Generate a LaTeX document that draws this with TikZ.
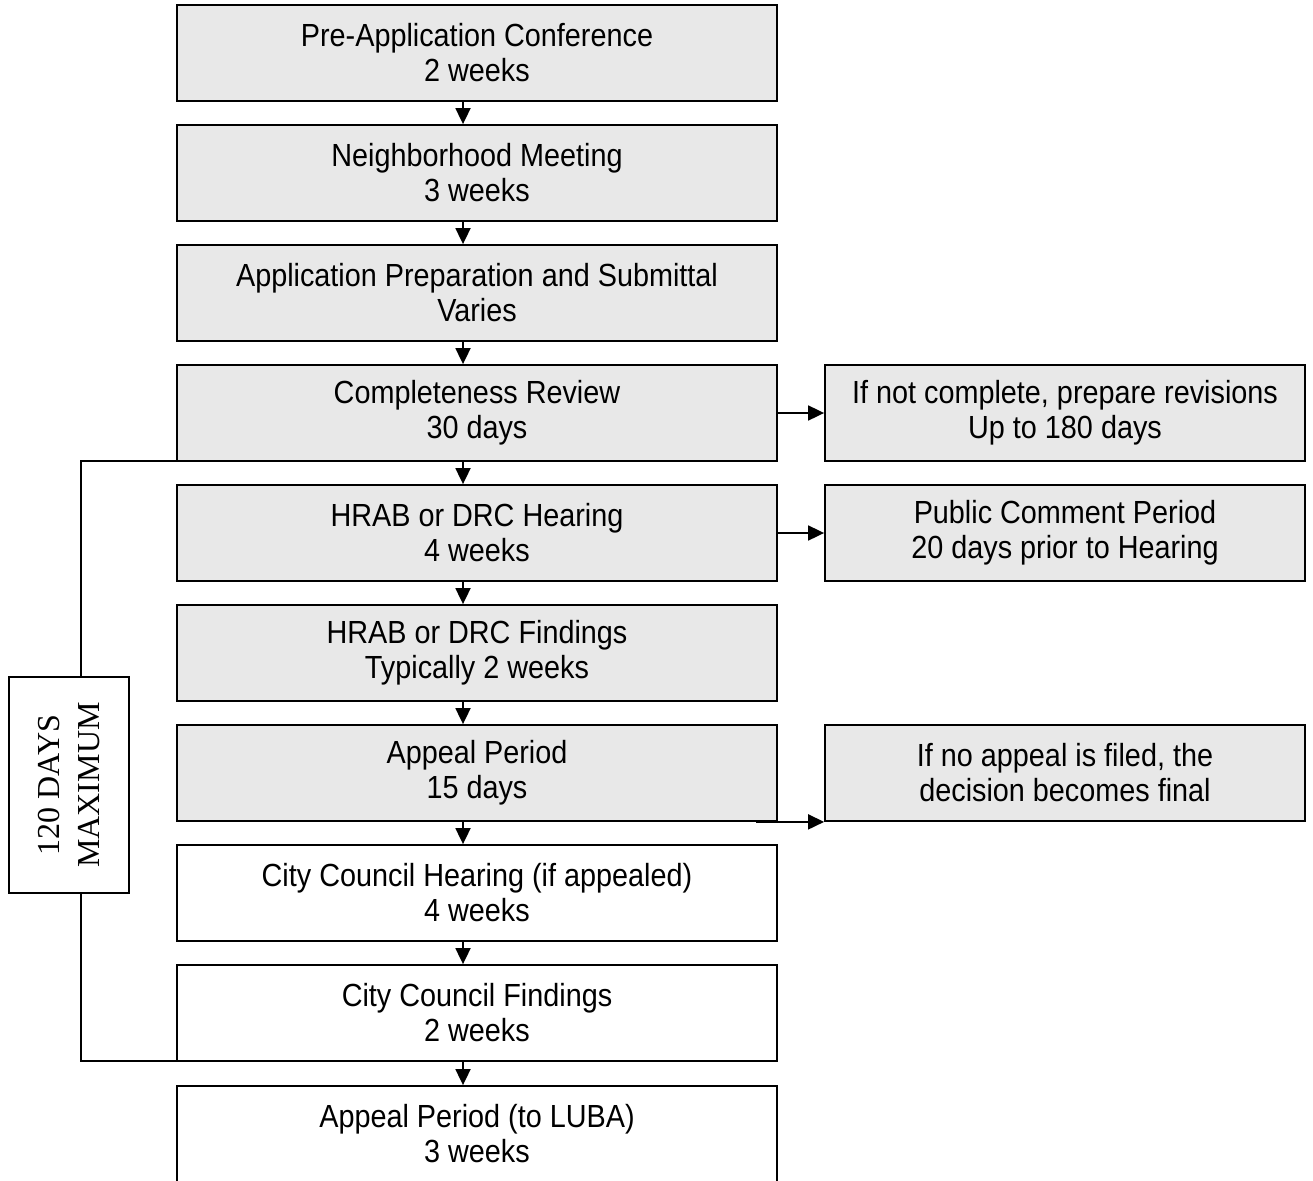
\documentclass[tikz,border=0pt]{standalone}
\usepackage{fontspec}
\setmainfont[FakeStretch=0.9]{Liberation Sans}
\newfontfamily\labelserif{Liberation Serif}
\usetikzlibrary{arrows.meta}
\definecolor{boxgray}{RGB}{232,232,232}
\tikzset{
  stepbox/.style={draw=black, line width=1.8pt, fill=#1, minimum width=600pt, minimum height=96pt,
    inner sep=0pt, align=center, font=\fontsize{32}{35}\selectfont},
  stepbox/.default=boxgray,
  sidebox/.style={draw=black, line width=1.8pt, fill=boxgray, minimum width=480pt, minimum height=96pt,
    inner sep=0pt, align=center, font=\fontsize{32}{35}\selectfont},
  arr/.style={line width=1.8pt, -{Triangle[length=16pt,width=15pt]}},
  plain/.style={line width=1.8pt},
}
\begin{document}
\begin{tikzpicture}[x=1pt,y=-1pt]
\useasboundingbox (0,0) rectangle (1313,1180);
\clip (0,0) rectangle (1313,1180);
\node[stepbox] (b1) at (477,53) {Pre-Application Conference\\2 weeks};
\node[stepbox] (b2) at (477,173) {Neighborhood Meeting\\3 weeks};
\node[stepbox] (b3) at (477,293) {Application Preparation and Submittal\\Varies};
\node[stepbox] (b4) at (477,413) {Completeness Review\\30 days};
\node[stepbox] (b5) at (477,533) {HRAB or DRC Hearing\\4 weeks};
\node[stepbox] (b6) at (477,653) {HRAB or DRC Findings\\Typically 2 weeks};
\node[stepbox] (b7) at (477,773) {Appeal Period\\15 days};
\node[stepbox=white] (b8) at (477,893) {City Council Hearing (if appealed)\\4 weeks};
\node[stepbox=white] (b9) at (477,1013) {City Council Findings\\2 weeks};
\node[stepbox=white] (b10) at (477,1134) {Appeal Period (to LUBA)\\3 weeks};

\node[sidebox] (r1) at (1065,413) {If not complete, prepare revisions\\Up to 180 days};
\node[sidebox] (r2) at (1065,533) {Public Comment Period\\20 days prior to Hearing};
\node[sidebox] (r3) at (1065,773) {If no appeal is filed, the\\decision becomes final};

\foreach \a/\b in {b1/b2,b2/b3,b3/b4,b4/b5,b5/b6,b6/b7,b7/b8,b8/b9,b9/b10}
  \draw[arr] ([xshift=-14pt]\a.south) -- ([xshift=-14pt]\b.north);

\draw[arr] (b4.east) -- (r1.west);
\draw[arr] (b5.east) -- (r2.west);
\draw[arr] ([xshift=-22pt]b7.south east) -- (r3.south west);

\node[draw=black, line width=1.8pt, fill=white, minimum width=120pt, minimum height=216pt, inner sep=0pt] (lab) at (69,785) {};
\node[rotate=90, align=center, font=\labelserif\fontsize{32}{40}\selectfont] (labtext) at (lab.center) {120 DAYS\\MAXIMUM};
\coordinate (bt) at (81,461);
\coordinate (bb) at (81,1061);
\draw[plain] (b4.south west) -- (bt -| b4.west) -- (bt) -- (bt |- lab.north);
\draw[plain] (bb |- lab.south) -- (bb) -- (bb -| b9.west);
\end{tikzpicture}
\end{document}
